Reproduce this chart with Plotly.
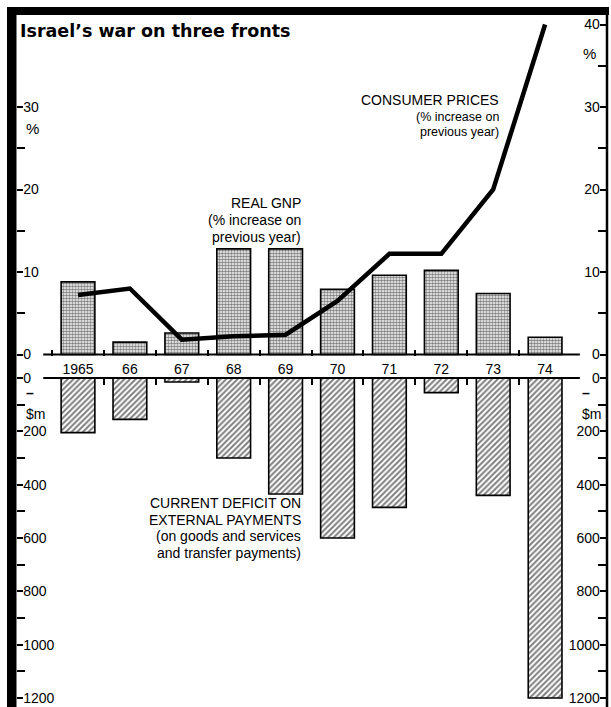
import plotly.graph_objects as go

W, H = 611, 707

years = ["1965", "66", "67", "68", "69", "70", "71", "72", "73", "74"]
real_gnp = [8.8, 1.5, 2.6, 12.8, 12.8, 7.9, 9.6, 10.2, 7.4, 2.1]
consumer_prices = [7.2, 8.0, 1.8, 2.2, 2.4, 6.5, 12.2, 12.2, 20.0, 40.0]
current_deficit = [205, 155, 15, 300, 435, 600, 485, 55, 440, 1200]

pct_ticks_left = [0, 10, 20, 30]
pct_ticks_right = [0, 10, 20, 30, 40]
usd_ticks = [0, 200, 400, 600, 800, 1000, 1200]

idx = list(range(len(years)))
neg_deficit = [-v for v in current_deficit]


def py(p):
    return 1 - p / H


# pixel geometry
X_LEFT, X_RIGHT = 17, 606
X0, DX = 78, 51.9
xr = [(X_LEFT - X0) / DX, (X_RIGHT - X0) / DX]
TOP0, TOP_SCALE = 354.5, 8.25        # px of 0 and px per %
BOT0, BOT_SCALE = 378, 53.33 / 200   # px of 0 and px per $m
yr_top = [-(H - TOP0) / TOP_SCALE, TOP0 / TOP_SCALE]
yr_bot = [-(H - BOT0) / BOT_SCALE, BOT0 / BOT_SCALE]

FONT = "Liberation Sans, Arial, sans-serif"
tickfont = dict(family=FONT, size=14, color="black")

fig = go.Figure()

fig.add_trace(go.Bar(
    x=idx, y=real_gnp, width=0.65, xaxis="x", yaxis="y",
    marker=dict(color="white", line=dict(color="black", width=1.6),
                pattern=dict(shape=".", fgcolor="black", bgcolor="white",
                             size=3, solidity=0.6)),
    showlegend=False, hoverinfo="skip"))
fig.add_trace(go.Scatter(
    x=idx, y=consumer_prices, mode="lines", xaxis="x", yaxis="y",
    line=dict(color="black", width=4.5), showlegend=False, hoverinfo="skip"))
fig.add_trace(go.Bar(
    x=idx, y=neg_deficit, width=0.65, xaxis="x2", yaxis="y2",
    marker=dict(color="white", line=dict(color="black", width=1.6),
                pattern=dict(shape="/", fgcolor="black", bgcolor="white",
                             size=4, solidity=0.5)),
    showlegend=False, hoverinfo="skip"))
# empty traces to register right-hand axes
fig.add_trace(go.Scatter(x=[], y=[], xaxis="x", yaxis="y3", showlegend=False))
fig.add_trace(go.Scatter(x=[], y=[], xaxis="x2", yaxis="y4", showlegend=False))

common_y = dict(domain=[0, 1], showgrid=False, zeroline=False, showline=False,
                ticks="inside", ticklen=6, tickwidth=2, tickcolor="black",
                ticklabelposition="inside", tickfont=tickfont, fixedrange=True)

fig.update_layout(
    width=W, height=H, margin=dict(l=0, r=0, t=0, b=0),
    paper_bgcolor="white", plot_bgcolor="rgba(0,0,0,0)",
    barmode="overlay",
    xaxis=dict(domain=[X_LEFT / W, X_RIGHT / W], range=xr, anchor="free",
               position=py(356), side="bottom", showgrid=False, zeroline=False,
               showline=False, tickvals=idx, ticktext=years, ticks="",
               tickfont=tickfont, ticklabelstandoff=3,
               minor=dict(tickvals=[i - 0.5 for i in idx], ticks="inside",
                          ticklen=6, tickwidth=1.5, tickcolor="black")),
    xaxis2=dict(domain=[X_LEFT / W, X_RIGHT / W], range=xr, matches="x",
                overlaying="x", anchor="free", position=py(378), side="bottom",
                showgrid=False, zeroline=False, showline=False,
                showticklabels=False, ticks="",
                minor=dict(tickvals=[i - 0.5 for i in idx], ticks="outside",
                           ticklen=6, tickwidth=1.5, tickcolor="black")),
    yaxis=dict(range=yr_top, anchor="x", side="left",
               tickvals=pct_ticks_left, ticktext=[str(v) for v in pct_ticks_left],
               minor=dict(tickvals=[5, 15, 25], ticks="inside", ticklen=8,
                          tickwidth=1.5, tickcolor="black"),
               **common_y),
    yaxis3=dict(range=yr_top, anchor="x", side="right", overlaying="y",
                tickvals=pct_ticks_right, ticktext=[str(v) for v in pct_ticks_right],
                minor=dict(tickvals=[5, 15, 25, 35], ticks="inside", ticklen=8,
                           tickwidth=1.5, tickcolor="black"),
                **common_y),
    yaxis2=dict(range=yr_bot, anchor="x2", side="left", overlaying="y",
                tickvals=[-v for v in usd_ticks], ticktext=[str(v) for v in usd_ticks],
                minor=dict(tickvals=[-v for v in range(100, 1200, 200)], ticks="inside",
                           ticklen=8, tickwidth=1.5, tickcolor="black"),
                **common_y),
    yaxis4=dict(range=yr_bot, anchor="x2", side="right", overlaying="y",
                tickvals=[-v for v in usd_ticks], ticktext=[str(v) for v in usd_ticks],
                minor=dict(tickvals=[-v for v in range(100, 1200, 200)], ticks="inside",
                           ticklen=8, tickwidth=1.5, tickcolor="black"),
                **common_y),
)

shapes = [
    # frame
    dict(type="rect", xref="paper", yref="paper", x0=7 / W, x1=16.5 / W,
         y0=0, y1=py(7), fillcolor="black", line=dict(width=0), layer="above"),
    dict(type="rect", xref="paper", yref="paper", x0=7 / W, x1=609 / W,
         y0=py(15), y1=py(7), fillcolor="black", line=dict(width=0), layer="above"),
    dict(type="line", xref="paper", yref="paper", x0=607 / W, x1=607 / W,
         y0=0, y1=py(7), line=dict(color="black", width=2.5), layer="above"),
    # baselines
    dict(type="line", xref="x", yref="y", x0=-0.67, x1=9.67, y0=0, y1=0,
         line=dict(color="black", width=2), layer="above"),
    dict(type="line", xref="x2", yref="y2", x0=-0.67, x1=9.67, y0=0, y1=0,
         line=dict(color="black", width=2), layer="above"),
]
fig.update_layout(shapes=shapes)


def label(lines, x_px, y_px_list, sizes, anchor="right"):
    for t, yp, s in zip(lines, y_px_list, sizes):
        fig.add_annotation(text=t, xref="paper", yref="paper", x=x_px / W,
                           y=py(yp), xanchor=anchor, yanchor="middle",
                           showarrow=False, font=dict(family=FONT, size=s, color="black"))


fig.add_annotation(text="<b>Israel’s war on three fronts</b>", xref="paper", yref="paper",
                   x=18 / W, y=py(31), xanchor="left", yanchor="middle", showarrow=False,
                   font=dict(family="DejaVu Sans, sans-serif", size=17.5, color="black"))

label(["CONSUMER PRICES", "(% increase on", "previous year)"], 501, [100, 117, 132],
      [14, 12.5, 12.5])
label(["REAL GNP", "(% increase on", "previous year)"], 303, [203, 220, 237],
      [14, 14, 14])
label(["CURRENT DEFICIT ON", "EXTERNAL PAYMENTS", "(on goods and services",
       "and transfer payments)"], 303, [503, 519.5, 536, 553], [14, 14, 14, 14])

label(["%"], 24, [128], [15], anchor="left")
label(["%"], 581, [53], [15], anchor="left")
label(["<b>–</b>", "$m"], 24, [393, 414], [14, 14], anchor="left")
label(["<b>–</b>", "$m"], 580, [393, 414], [14, 14], anchor="left")

fig.write_html("out.html")
